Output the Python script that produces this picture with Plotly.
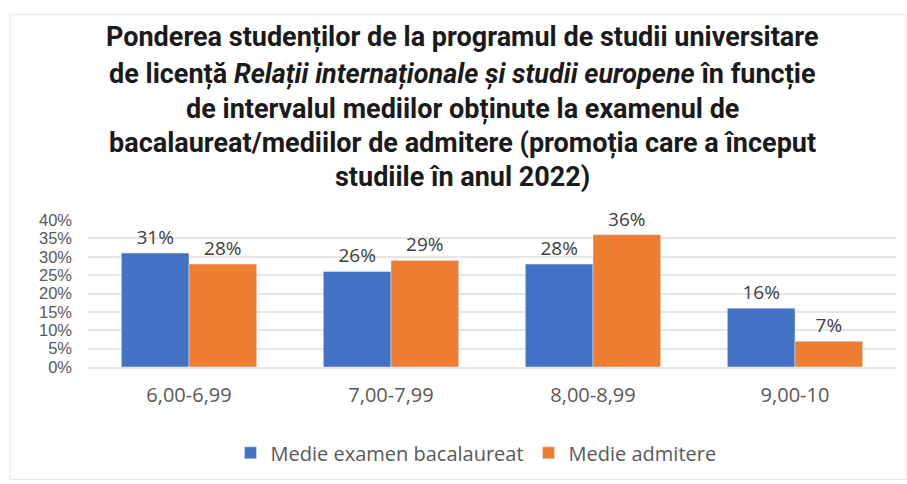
import plotly.graph_objects as go

categories = ["6,00-6,99", "7,00-7,99", "8,00-8,99", "9,00-10"]
bac_values = [31, 26, 28, 16]
adm_values = [28, 29, 36, 7]
series_names = ["Medie examen bacalaureat", "Medie admitere"]
y_ticks = [0, 5, 10, 15, 20, 25, 30, 35, 40]
title_lines = [
    "Ponderea studenților de la programul de studii universitare",
    "de licență <i>Relații internaționale și studii europene</i> în funcție",
    "de intervalul mediilor obținute la examenul de",
    "bacalaureat/mediilor de admitere (promoția care a început",
    "studiile în anul 2022)",
]

W, H = 907, 484
L, R, T, B = 88, 11, 220, 115
plot_w = W - L - R
plot_h = H - T - B

fig = go.Figure()
fig.add_trace(go.Bar(
    x=categories, y=bac_values, name=series_names[0],
    marker_color="#4472C4",
    text=[f"{v}%" for v in bac_values], textposition="outside",
    textfont=dict(size=19, color="#404040", family="Open Sans"), cliponaxis=False,
))
fig.add_trace(go.Bar(
    x=categories, y=adm_values, name=series_names[1],
    marker_color="#ED7D31",
    text=[f"{v}%" for v in adm_values], textposition="outside",
    textfont=dict(size=19, color="#404040", family="Open Sans"), cliponaxis=False,
))

title_y_px = [35, 72, 107, 142, 176]
for line, ypx in zip(title_lines, title_y_px):
    fig.add_annotation(
        text=f"<b>{line}</b>", xref="paper", yref="paper",
        x=(462 - L) / plot_w, y=(H - B - ypx) / plot_h,
        xanchor="center", yanchor="middle", showarrow=False,
        font=dict(size=27, color="#1a1a1a", family="Roboto, sans-serif"),
    )

fig.add_shape(type="rect", xref="paper", yref="paper",
              x0=(10 - L) / plot_w, x1=(906 - L) / plot_w,
              y0=(H - B - 483) / plot_h, y1=(H - B - 12) / plot_h,
              line=dict(color="#e6e6e6", width=1), layer="below")

fig.update_layout(
    width=W, height=H,
    margin=dict(l=L, r=R, t=T, b=B),
    plot_bgcolor="white", paper_bgcolor="white",
    barmode="group", bargap=0.33, bargroupgap=0,
    font=dict(family="Open Sans, sans-serif", color="#595959"),
    showlegend=True,
    legend=dict(orientation="h", x=(476 - L) / plot_w, xanchor="center",
                y=(H - B - 456) / plot_h, yanchor="middle",
                font=dict(size=20, color="#595959"), traceorder="normal"),
    yaxis=dict(range=[0, 40], tickvals=y_ticks, ticktext=[f"{v}%" for v in y_ticks],
               showgrid=True, gridcolor="#e6e6e6", gridwidth=2, zeroline=False,
               tickfont=dict(size=16.5, color="#595959", family="Liberation Sans, Arial, sans-serif"),
               ticks="", ticklen=0, showline=False, ticklabelstandoff=15),
    xaxis=dict(tickfont=dict(size=20, color="#595959"), showline=True,
               linecolor="#e6e6e6", linewidth=2, ticks="", ticklabelstandoff=9),
)

fig.write_html("out.html", config={"displayModeBar": False},
               post_script="document.body.style.margin='0';")
